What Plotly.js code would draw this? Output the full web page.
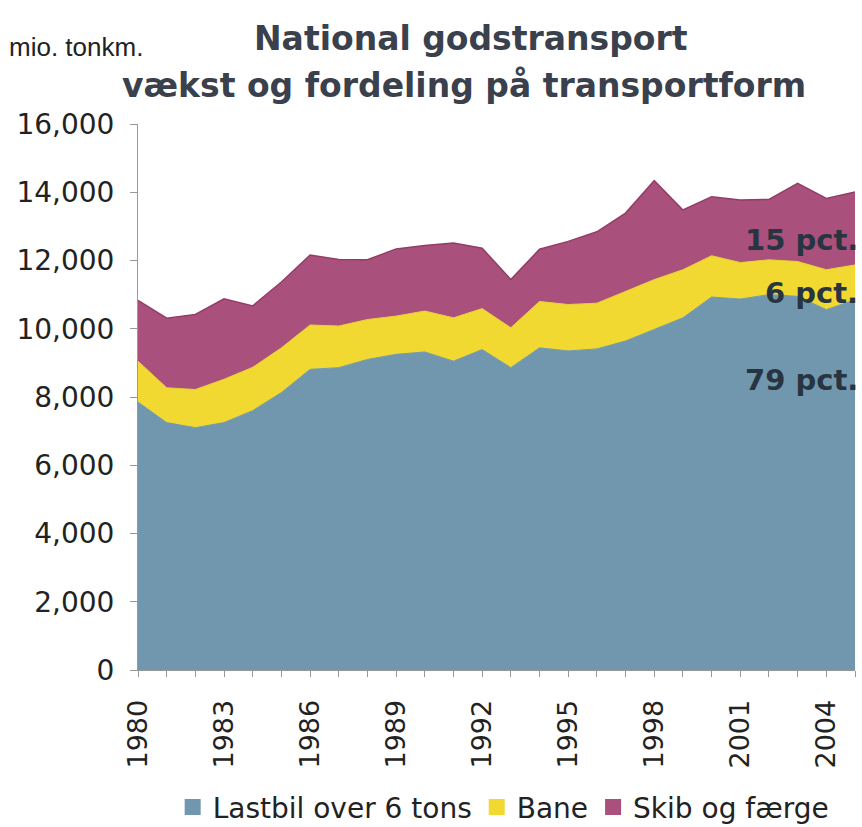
<!DOCTYPE html>
<html>
<head>
<meta charset="utf-8">
<script src="https://cdn.plot.ly/plotly-3.0.1.min.js"></script>
<style>html,body{margin:0;padding:0;background:#fff;}#chart{width:862px;height:827px;}</style>
</head>
<body>
<div id="chart"></div>
<script>
const years = [1980,1981,1982,1983,1984,1985,1986,1987,1988,1989,1990,1991,1992,1993,1994,1995,1996,1997,1998,1999,2000,2001,2002,2003,2004,2005];
const lastbil = [7850,7250,7100,7250,7600,8130,8810,8860,9100,9250,9320,9050,9390,8860,9440,9350,9410,9640,9980,10320,10930,10870,11000,10950,10560,10850];
const bane = [1200,1020,1120,1270,1270,1310,1300,1220,1170,1120,1200,1270,1200,1170,1360,1360,1340,1460,1460,1410,1210,1070,1020,1020,1170,1020];
const skib = [1780,2040,2200,2360,1800,1930,2050,1950,1750,1970,1920,2190,1770,1410,1530,1850,2090,2290,2900,1750,1730,1830,1770,2290,2090,2140];
const seriesNames = ["Lastbil over 6 tons", "Bane", "Skib og færge"];
const seriesColors = ['#7097ad', '#f1d932', '#aa507c'];
const xTickVals = [1980,1983,1986,1989,1992,1995,1998,2001,2004];
const yTickVals = [0,2000,4000,6000,8000,10000,12000,14000,16000];
const pctLabels = ["15 pct.", "6 pct.", "79 pct."];

const wide = "DejaVu Sans, Verdana, sans-serif";
const seriesValues = [lastbil, bane, skib];
const lineColors = ['#7097ad', '#e8d030', '#933d66'];
const traces = seriesValues.map((vals, i) => ({
  x: years, y: vals, name: seriesNames[i], type: 'scatter', mode: 'lines', stackgroup: 'one',
  fillcolor: seriesColors[i], line: {color: lineColors[i], width: i === 2 ? 1.5 : 1},
  showlegend: false
}));
// legend entries with square swatches (no data drawn)
seriesNames.forEach((nm, i) => traces.push({
  x: [null], y: [null], name: nm, type: 'scatter', mode: 'markers',
  marker: {symbol: 'square', size: 20, color: seriesColors[i]}, showlegend: true
}));

const layout = {
  width: 862, height: 827,
  margin: {l: 138, r: 7, t: 124, b: 157},
  paper_bgcolor: '#fff', plot_bgcolor: '#fff',
  font: {family: wide, color: '#222', size: 27},
  showlegend: true,
  legend: {orientation: 'h', x: 0.51, xanchor: 'center', xref: 'paper', y: 0.054, yref: 'container', yanchor: 'top',
           font: {size: 28, color: '#222'}, traceorder: 'normal', itemwidth: 30, itemsizing: 'trace'},
  xaxis: {range: [1980, 2005], tickvals: xTickVals, ticktext: xTickVals.map(String), tickangle: -90,
          ticks: 'outside', ticklen: 6, tickcolor: '#999', showline: true, linecolor: '#999',
          showgrid: false, zeroline: false, tickfont: {size: 27, color: '#222'}, ticklabelstandoff: 12,
          minor: {dtick: 1, tick0: 1980, ticks: 'outside', ticklen: 6, tickcolor: '#999', showgrid: false}},
  yaxis: {range: [0, 16000], tickvals: yTickVals, tickformat: ',d', ticks: 'outside', ticklen: 7,
          tickcolor: '#999', showline: true, linecolor: '#999', showgrid: false, zeroline: false,
          tickfont: {size: 28, color: '#222'}, ticklabelstandoff: 10},
  annotations: [
    {text: '<b>National godstransport</b>', xref: 'paper', yref: 'paper', x: 0.465, y: 1, yshift: 86,
     xanchor: 'center', yanchor: 'middle', showarrow: false, font: {family: wide, size: 33, color: '#3a404c'}},
    {text: '<b>vækst og fordeling på transportform</b>', xref: 'paper', yref: 'paper', x: 0.455, y: 1, yshift: 39,
     xanchor: 'center', yanchor: 'middle', showarrow: false, font: {family: wide, size: 33, color: '#3a404c'}},
    {text: 'mio. tonkm.', xref: 'paper', yref: 'paper', x: 0, xshift: -131, y: 1, yshift: 77,
     xanchor: 'left', yanchor: 'middle', showarrow: false,
     font: {family: 'Liberation Sans, Arial, sans-serif', size: 26, color: '#222'}},
    {text: '<b>' + pctLabels[0] + '</b>', xref: 'paper', yref: 'y', x: 1, xshift: 5, y: 12600,
     xanchor: 'right', yanchor: 'middle', showarrow: false, font: {family: wide, size: 29, color: '#283440'}},
    {text: '<b>' + pctLabels[1] + '</b>', xref: 'paper', yref: 'y', x: 1, xshift: 5, y: 11050,
     xanchor: 'right', yanchor: 'middle', showarrow: false, font: {family: wide, size: 29, color: '#283440'}},
    {text: '<b>' + pctLabels[2] + '</b>', xref: 'paper', yref: 'y', x: 1, xshift: 5, y: 8500,
     xanchor: 'right', yanchor: 'middle', showarrow: false, font: {family: wide, size: 29, color: '#283440'}}
  ]
};
Plotly.newPlot('chart', traces, layout, {displayModeBar: false, staticPlot: true});
</script>
</body>
</html>
